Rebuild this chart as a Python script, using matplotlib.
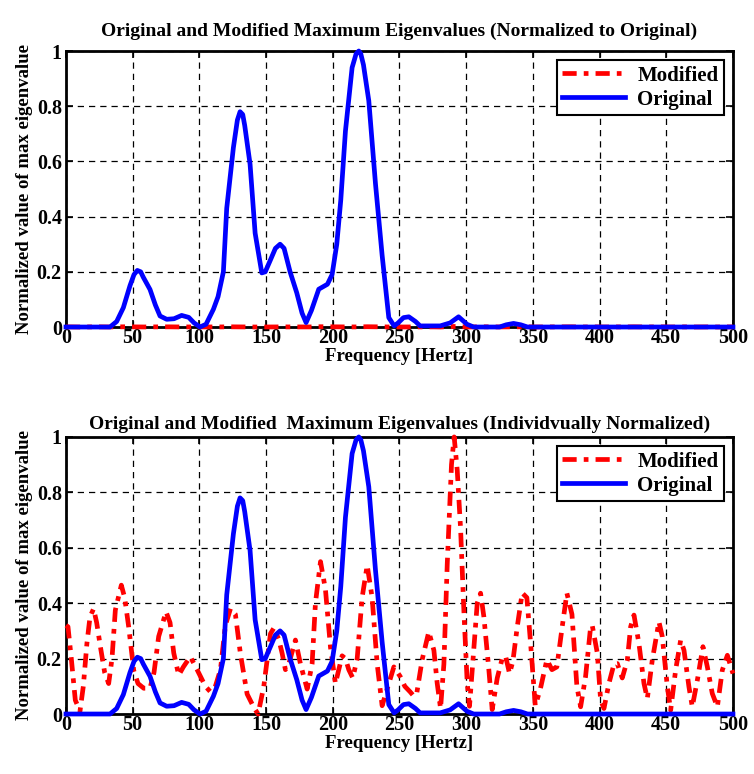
import numpy as np
import matplotlib
matplotlib.use('Agg')
import matplotlib.pyplot as plt

# original max eigenvalue, normalized
freq_orig = [0, 33, 38, 43, 48, 51, 53.5, 56, 58, 63, 67, 70.5, 75.5, 81, 86.7,
             92, 96, 100.5, 105, 110.5, 114, 118, 120.5, 125.5, 128.5, 130.5,
             132.5, 134, 138, 141.8, 146.8, 149.4, 153, 157, 160.5, 163.5, 168,
             173, 177, 180, 184, 189.5, 196, 199.5, 203, 206, 209.5, 214.5,
             217.5, 219.5, 221, 223, 227, 232, 237, 242, 246, 249, 253, 257,
             262, 265.5, 280.5, 288, 294.3, 300.6, 305.6, 325, 330, 335.5, 341,
             346, 500]
val_orig = [0, 0, 0.02, 0.07, 0.15, 0.19, 0.205, 0.2, 0.18, 0.136, 0.08, 0.04,
            0.028, 0.03, 0.042, 0.035, 0.015, 0.0, 0.01, 0.064, 0.11, 0.2, 0.43,
            0.65, 0.75, 0.78, 0.77, 0.73, 0.59, 0.34, 0.196, 0.2, 0.24, 0.285,
            0.30, 0.285, 0.2, 0.124, 0.05, 0.016, 0.06, 0.137, 0.155, 0.19,
            0.30, 0.46, 0.71, 0.94, 0.99, 1.0, 0.99, 0.95, 0.82, 0.52, 0.26,
            0.034, 0.004, 0.015, 0.034, 0.037, 0.02, 0.004, 0.004, 0.015,
            0.037, 0.01, 0.0, 0.0, 0.008, 0.013, 0.008, 0.0, 0.0]

# modified max eigenvalue, individually normalized
freq_mod = [0, 1.5, 4, 7, 10.5, 13, 15.7, 18, 20.7, 23, 25.8, 29, 32, 34.5, 37,
            41.5, 44, 47, 50.8, 54, 58.3, 63, 66, 69.5, 75, 78, 80.8, 84.5, 88,
            93.2, 98.3, 104.5, 108.3, 112, 115.8, 119.5, 123.3, 127, 130.8,
            135.8, 140.8, 144, 148.3, 153.3, 155.8, 159.5, 162, 164.5, 167,
            172, 175.8, 180.8, 184.5, 187, 190.8, 194.5, 198.3, 202, 207,
            209.5, 212, 215, 218.3, 222, 225.8, 229.5, 233.3, 237, 242, 245.8,
            250.5, 254, 258, 260.8, 263, 267, 272, 275.8, 278.3, 280.8, 283.3,
            285.8, 289, 291, 293.3, 295.8, 298.3, 300.8, 302.5, 305.8, 308.3,
            310.8, 313.3, 317, 319.5, 323.3, 327, 329.5, 332.5, 335, 338.3,
            342, 345.5, 348.3, 351.8, 355.5, 360.5, 364.3, 368, 372, 375.5,
            379.3, 383, 385.8, 389.5, 393.3, 394.5, 398.3, 400.8, 403.3, 407,
            410.8, 413.3, 417, 420.8, 423.3, 425.8, 429.5, 433.3, 435.8, 439.5,
            444.5, 447, 450.8, 453.3, 457, 460.8, 463.3, 467, 469.5, 473.3,
            477.5, 480.8, 484.5, 488.3, 492, 495.8, 500]
val_mod = [0.32, 0.315, 0.2, 0.05, 0.01, 0.1, 0.255, 0.35, 0.38, 0.33, 0.243,
           0.15, 0.11, 0.2, 0.375, 0.465, 0.42, 0.315, 0.157, 0.11, 0.093,
           0.093, 0.15, 0.28, 0.369, 0.33, 0.22, 0.14, 0.17, 0.207, 0.16, 0.1,
           0.08, 0.1, 0.16, 0.32, 0.38, 0.36, 0.216, 0.072, 0.024, 0.0, 0.1,
           0.29, 0.31, 0.27, 0.22, 0.16, 0.18, 0.267, 0.18, 0.09, 0.18, 0.4,
           0.55, 0.45, 0.24, 0.11, 0.21, 0.2, 0.16, 0.13, 0.2, 0.42, 0.537,
           0.42, 0.18, 0.03, 0.11, 0.17, 0.136, 0.1, 0.08, 0.064, 0.076, 0.196,
           0.297, 0.23, 0.11, 0.02, 0.18, 0.54, 0.9, 1.0, 0.88, 0.67, 0.37,
           0.11, 0.028, 0.24, 0.4, 0.436, 0.35, 0.16, 0.016, 0.13, 0.2, 0.21,
           0.146, 0.19, 0.315, 0.437, 0.42, 0.255, 0.03, 0.088, 0.196, 0.16,
           0.17, 0.315, 0.436, 0.36, 0.1, 0.026, 0.135, 0.315, 0.32, 0.22,
           0.05, 0.02, 0.11, 0.18, 0.182, 0.13, 0.194, 0.315, 0.357, 0.255,
           0.11, 0.056, 0.194, 0.333, 0.28, 0.098, 0.014, 0.158, 0.267, 0.23,
           0.098, 0.026, 0.122, 0.243, 0.17, 0.074, 0.026, 0.158, 0.212, 0.146]

# modified max / original max -> practically zero in top panel
mod_to_orig_ratio = 0.002

xticks = list(range(0, 501, 50))
yticks = [0, 0.2, 0.4, 0.6, 0.8, 1]
ytick_labels = ['0', '0.2', '0.4', '0.6', '0.8', '1']

titles = ['Original and Modified Maximum Eigenvalues (Normalized to Original)',
          'Original and Modified  Maximum Eigenvalues (Individvually Normalized)']

plt.rcParams['font.family'] = ['Liberation Serif', 'DejaVu Serif']
plt.rcParams['font.weight'] = 'bold'

fig = plt.figure(figsize=(7.54, 7.74), dpi=100)
ax1 = fig.add_axes([0.0875, 0.5775, 0.8846, 0.3566])
ax2 = fig.add_axes([0.0875, 0.0775, 0.8846, 0.358])

mod_top = np.array(val_mod) * mod_to_orig_ratio

for ax, red, title, tpad in [(ax1, mod_top, titles[0], 11),
                             (ax2, val_mod, titles[1], 6)]:
    ax.plot(freq_mod, red, color='red', ls=(0, (3, 1.5, 1, 1.5)), lw=3.4,
            label='Modified', clip_on=False)
    ax.plot(freq_orig, val_orig, color='blue', ls='-', lw=3.4, label='Original',
            clip_on=False)
    ax.set_xlim(0, 500)
    ax.set_ylim(0, 1)
    ax.set_xticks(xticks)
    ax.set_yticks(yticks)
    ax.set_yticklabels(ytick_labels)
    ax.tick_params(direction='in', top=True, right=True, length=5, width=1.2,
                   labelsize=14.5, pad=3)
    ax.tick_params(axis='x', pad=1)
    for lab in ax.get_xticklabels() + ax.get_yticklabels():
        lab.set_fontweight('bold')
    ax.grid(True, color='black', ls=(0, (5, 4)), lw=0.9)
    for sp in ax.spines.values():
        sp.set_linewidth(2)
        sp.set_zorder(1.5)
    ax.set_xlabel('Frequency [Hertz]', fontsize=13.5, fontweight='bold',
                  labelpad=0)
    ax.set_ylabel('Normalized value of max eigenvalue', fontsize=13.5,
                  fontweight='bold', labelpad=3)
    ax.set_title(title, fontsize=14, fontweight='bold', pad=tpad)
    leg = ax.legend(loc='upper right', fontsize=15, fancybox=False,
                    edgecolor='black', framealpha=1, borderaxespad=0.45,
                    handlelength=3.0, labelspacing=0.2, borderpad=0.25,
                    handletextpad=0.6)
    leg.get_frame().set_linewidth(1.5)
    leg.set_zorder(5)
    for t in leg.get_texts():
        t.set_fontweight('bold')

fig.savefig('out.png', dpi=100)
